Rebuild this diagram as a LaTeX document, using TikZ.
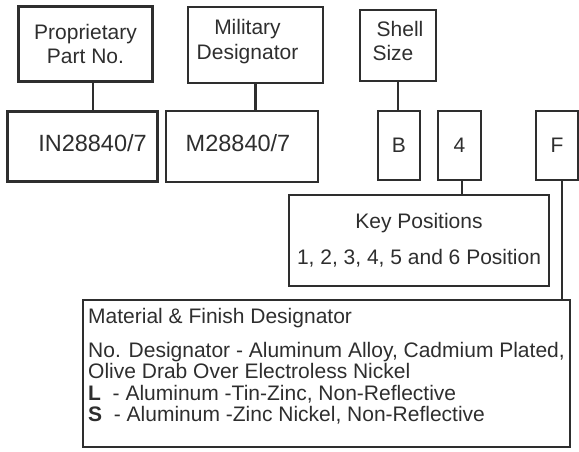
\documentclass[tikz,border=0pt]{standalone}
\usepackage{fontspec}
\setmainfont{Liberation Sans}
\definecolor{inkgray}{HTML}{2E2E2E}
\begin{document}
\begin{tikzpicture}[x=1pt, y=-1pt,
		box/.style={rectangle, draw=inkgray, line width=2.2pt, inner sep=0pt, text=inkgray,
			font=\fontsize{21}{24}\selectfont, align=center},
		partno/.style={box, font=\fontsize{23.5}{26}\selectfont, text depth=8pt},
		letterbox/.style={box, minimum width=42pt, minimum height=69pt},
		link/.style={draw=inkgray, line width=2.2pt}
	]
		\useasboundingbox (0,0) rectangle (579,451);
		
		% headings
		\node[box, minimum width=134pt, minimum height=75pt] (prop) at (85.5,44) {Proprietary\\Part No.};
		\node[box, minimum width=135pt, minimum height=76pt, text depth=12pt, font=\fontsize{21}{25}\selectfont] (mil) at (255.5,45) {Military\rule{16pt}{0pt}\\Designator\rule{16pt}{0pt}};
		\node[box, minimum width=76pt, minimum height=71pt, text depth=10pt] (shell) at (398,45.5) {\rule{4pt}{0pt}Shell\\Size\rule{10pt}{0pt}};
		
		% part number fields
		\node[partno, minimum width=150pt, minimum height=70pt] (pn) at (82.5,146.5) {\rule{20pt}{0pt}IN28840/7};
		\node[partno, minimum width=152pt, minimum height=71pt] (md) at (242,146.5) {M28840/7\rule{8pt}{0pt}};
		\node[letterbox] (bb) at (399,145.5) {B};
		\node[letterbox, minimum width=43pt] (kp4) at (459.5,145.5) {4};
		\node[letterbox] (ff) at (557,145.5) {F};
		
		% explanations
		\node[box, minimum width=260pt, minimum height=91pt, font=\fontsize{21}{36}\selectfont] (key) at (419,240.5) {Key Positions\\1, 2, 3, 4, 5 and 6 Position};
		\node[box, align=left, minimum width=487pt, minimum height=147pt, text depth=17pt, font=\fontsize{21}{21.5}\selectfont] (mat) at (326.5,373.5)
			{Material \& Finish Designator\\[12.5pt]
			No. Designator - Aluminum Alloy, Cadmium Plated,\\
			Olive Drab Over Electroless Nickel\\
			\textbf{L}\ \ - Aluminum -Tin-Zinc, Non-Reflective\\
			\textbf{S}\ \ - Aluminum -Zinc Nickel, Non-Reflective};
		
		\draw[link] ([xshift=7.5pt]prop.south) -- ([xshift=7.5pt]prop.south |- pn.north);
		\draw[link] (mil.south) -- (mil.south |- md.north);
		\draw[link] (shell.south) -- (shell.south |- bb.north);
		\draw[link] ([xshift=2.5pt]kp4.south) -- ([xshift=2.5pt]kp4.south |- key.north);
		\draw[link] ([xshift=5pt]ff.south) -- ([xshift=5pt]ff.south |- mat.north);
	\end{tikzpicture}
\end{document}
